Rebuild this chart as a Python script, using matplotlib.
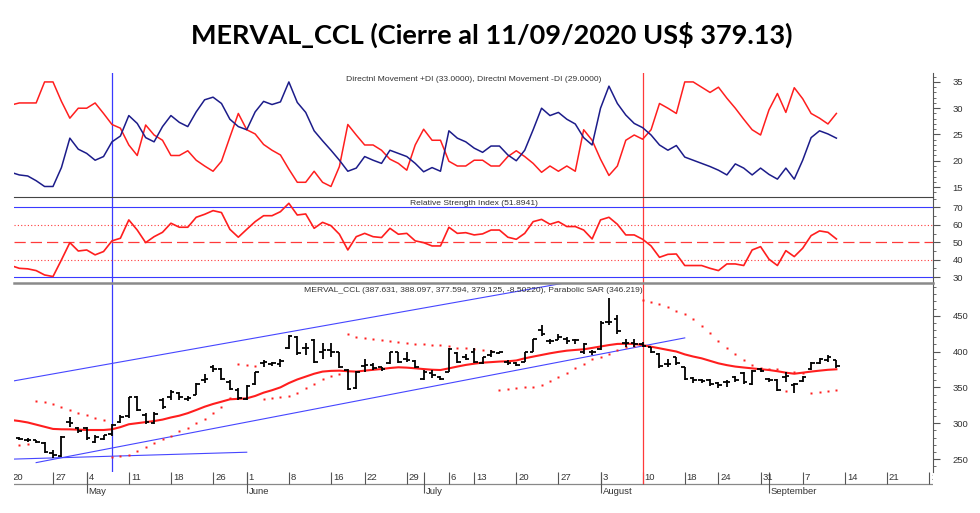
import numpy as np
import pandas as pd
import matplotlib
matplotlib.use("Agg")
import matplotlib.pyplot as plt
from matplotlib.ticker import MultipleLocator
from matplotlib.transforms import offset_copy

# --- trading calendar (Argentine market holidays removed) ---
start_date = "2020-04-20"
calendar_end = "2020-10-02"
holidays = ["2020-05-01", "2020-05-25", "2020-06-15",
            "2020-07-09", "2020-07-10", "2020-08-17"]
blue_marker_date = "2020-05-07"
red_marker_date = "2020-08-10"

# --- OHLC MERVAL_CCL (US$) ---
opens = [280, 280, 277, 276, 273, 258, 254, 301, 293, 293, 274, 278, 285, 302, 310, 337, 312, 300, 333, 336,
         342, 334, 340, 360, 378, 376, 358, 347, 334, 354, 384, 383, 383, 405, 420, 405, 416, 400, 402, 399,
         374, 349, 380, 381, 378, 384, 399, 390, 387, 361, 370, 365, 372, 398, 392, 400, 384, 395, 398, 385,
         384, 386, 400, 430, 414, 416, 418, 416, 400, 400, 403, 441, 445, 412, 412, 410, 406, 397, 383, 392,
         378, 363, 360, 360, 356, 357, 364, 370, 355, 375, 361, 360, 365, 353, 359, 375, 384, 388, 387.631]
highs = [282, 281, 279, 277, 274, 262, 282, 308, 295, 294, 283, 284, 299, 311, 337, 338, 314, 316, 335, 346,
         344, 338, 356, 369, 381, 377, 360, 349, 353, 372, 388, 386, 389, 423, 421, 412, 418, 412, 412, 400,
         375, 373, 390, 384, 379, 400, 400, 400, 388, 374, 374, 366, 405, 400, 397, 405, 393, 402, 400, 388,
         385, 400, 418, 437, 417, 425, 420, 418, 412, 402, 442, 474, 451, 417, 417, 413, 407, 398, 390, 393,
         379, 365, 362, 362, 358, 360, 366, 372, 374, 377, 363, 361, 372, 356, 366, 386, 391, 395, 388.097]
lows = [277, 276, 274, 272, 258, 252, 253, 294, 286, 277, 272, 276, 282, 300, 307, 317, 299, 299, 320, 333,
        333, 331, 339, 356, 372, 360, 346, 333, 332, 353, 379, 380, 378, 403, 395, 395, 384, 390, 393, 377,
        347, 348, 372, 374, 373, 383, 384, 386, 377, 360, 363, 360, 371, 384, 388, 384, 383, 393, 396, 381,
        380, 385, 399, 421, 411, 416, 411, 411, 397, 395, 402, 437, 425, 407, 406, 406, 398, 377, 379, 381,
        360, 356, 356, 352, 349, 350, 358, 355, 353, 372, 358, 345, 358, 342, 358, 374, 383, 386, 377.594]
closes = [279, 278, 276, 274, 260, 255, 281, 300, 289, 279, 281, 283, 297, 309, 336, 318, 301, 313, 322, 343,
          337, 335, 355, 362, 375, 362, 348, 335, 352, 371, 385, 384, 387, 421, 398, 405, 386, 402, 400, 378,
          348, 372, 381, 377, 375, 399, 386, 388, 378, 372, 367, 361, 404, 386, 390, 386, 392, 400, 399, 384,
          381, 399, 417, 425, 414, 420, 415, 416, 410, 399, 440, 441, 428, 412, 410, 408, 400, 380, 382, 384,
          362, 360, 359, 355, 353, 358, 360, 357, 373, 373, 360, 347, 366, 354, 364, 384, 389, 393, 379.125]

# moving average (red line) and Parabolic SAR
moving_avg = [304.5, 303, 301, 298, 295, 292, 291.5, 291.4, 291, 290.5, 290.5, 290.5, 291.5, 294.5, 298.5, 300,
              301.5, 303, 305, 308, 310.5, 314, 318.4, 323, 326.8, 330, 333.3, 334, 334.7, 338, 342.6, 346,
              350, 356, 361, 365, 369, 372, 373, 373.3, 372.5, 372, 373.3, 374.5, 375.6, 377, 378, 377.5,
              376.6, 375.5, 374.6, 374.2, 376.5, 379, 381.3, 383, 384.5, 385.2, 386, 386.4, 387.5, 390.5,
              392.9, 395.2, 397.5, 399.5, 401.2, 402.2, 403.1, 405, 407, 409, 410.6, 410.8, 410.6, 408.8,
              406.7, 404.5, 402.2, 400, 396, 393, 390.5, 387, 383.5, 381, 379, 377.7, 376.5, 375.3, 374.2,
              372.5, 370.5, 369, 370.5, 372, 373.3, 374.5, 375.2]
sar = [269, 269.6, 270.5, 331.4, 329.1, 326.3, 322.1, 318.0, 314.7, 311.0, 306.8, 304.0, 253.3, 254.2, 255.6,
       261.2, 266.3, 271.9, 277.5, 282.6, 289.1, 293.8, 299.8, 305.4, 314.7, 322.1, 334.7, 382.3, 381.0, 379.5,
       333.8, 334.7, 337.0, 337.9, 341.7, 348.6, 354.0, 361.4, 365.4, 368.0, 424.0, 420.7, 418.4, 417.5, 416.1,
       414.7, 413.3, 412.4, 411.0, 410.0, 409.1, 408.6, 408.2, 405.4, 404.5, 403.1, 402.1, 400.7, 346.3, 347.7,
       349.6, 350.0, 351.0, 353.3, 358.9, 364.0, 369.6, 376.6, 382.6, 389.2, 392.0, 396.6, 402.0, 406.0, 408.0,
       471.9, 469.6, 466.3, 461.7, 457.0, 451.9, 444.9, 435.8, 426.5, 415.1, 404.5, 396.3, 387.7, 381.7, 377.5,
       375.6, 375.6, 345.4, 371.0, 370.5, 342.6, 343.1, 345.4, 346.2]

# trend lines drawn on the price panel: (day index, price)
channel_top = ([0, 66], [358.3, 496.2])
channel_bottom = ([3, 80], [245.0, 419.0])
support_line = ([0, 28], [249.8, 259.5])

# Directional movement
plus_di = [17.8, 17.3, 17.1, 16.2, 15.1, 15.1, 18.7, 24.3, 22.2, 21.4, 20.1, 20.8, 23.6, 24.7, 28.6, 27.1,
           24.4, 23.6, 26.5, 28.6, 27.3, 26.5, 29.3, 31.6, 32.1, 30.9, 27.9, 26.5, 25.9, 29.3, 31.3, 30.7,
           31.2, 35.0, 31.1, 29.2, 25.7, 23.8, 22.0, 20.1, 18.0, 18.6, 20.8, 20.1, 19.5, 22.0, 21.4, 20.8,
           19.5, 17.9, 18.7, 18.0, 25.7, 24.3, 23.6, 22.4, 21.6, 22.8, 22.8, 21.1, 20.0, 22.0, 25.9, 30.0,
           28.6, 29.2, 27.9, 27.0, 24.4, 23.0, 30.0, 34.2, 30.9, 28.7, 27.1, 26.3, 24.9, 23.0, 22.0, 22.9,
           20.7, 20.1, 19.5, 18.9, 18.2, 17.3, 19.4, 18.6, 17.3, 18.6, 17.4, 16.5, 18.6, 16.5, 20.1, 24.4,
           25.7, 25.1, 24.3]
minus_di = [30.6, 31, 31, 31, 35, 35, 31.3, 28.1, 30, 30, 31, 29, 26.9, 26.2, 23, 21, 26.8, 24.9, 23.9, 21,
            21, 21.9, 20.1, 19, 18, 19.9, 24.5, 29, 25.9, 25.1, 23.1, 22, 21.1, 18.4, 15.9, 15.9, 18, 15.9,
            15.1, 18.9, 26.9, 24.9, 23, 23, 22, 20.3, 19.5, 18.2, 23, 26, 23.9, 23.9, 19.9, 19, 19, 20.1, 20.1,
            19, 19, 20.8, 21.9, 20.8, 19.5, 17.8, 19, 18, 19, 18, 25.9, 23.9, 20.3, 17.2, 19, 23.9, 24.9, 24.1,
            25.9, 30.9, 30, 29, 35, 35, 34, 33, 34, 31.9, 30, 27.9, 25.9, 24.9, 29.7, 32.8, 29.2, 33.9, 31.8,
            29, 28.1, 27, 29]

# Relative Strength Index
rsi = [36.7, 35.1, 34.8, 33.8, 31.3, 30.4, 39.9, 49.8, 45, 45.6, 42.8, 44.7, 50.8, 52.3, 62.8, 57, 49.8, 53.2,
       55.7, 60.9, 58.6, 58.6, 64.3, 66, 68.1, 67, 57.4, 52.9, 57.4, 61.8, 65.2, 65.2, 67.5, 72.3, 65.6, 66.2,
       58, 61.4, 59.5, 54.6, 45.6, 53.2, 55.1, 53.2, 52.7, 58, 54.6, 55.1, 50.8, 49.8, 47.9, 47.9, 58.6, 55.1,
       55.5, 54.2, 54.8, 57, 57, 52.9, 51.7, 55.1, 61.8, 63.1, 60.3, 61.8, 59, 59, 57, 51.9, 62.8, 64.3, 60.3,
       54.2, 54.2, 51.7, 47.9, 41.4, 43.1, 43.3, 36.7, 36.7, 36.7, 35.1, 33.8, 37.6, 37.6, 36.7, 45.6, 47.5,
       40.3, 36.7, 45.2, 41.8, 46.6, 53.8, 56.5, 55.7, 51.9]

title = "MERVAL_CCL (Cierre al 11/09/2020 US$ 379.13)"
di_title = "Directnl Movement +DI (33.0000), Directnl Movement -DI (29.0000)"
rsi_title = "Relative Strength Index (51.8941)"
px_title = ("MERVAL_CCL (387.631, 388.097, 377.594, 379.125, -8.50220), "
            "Parabolic SAR (346.219)")
month_names = {5: "May", 6: "June", 7: "July", 8: "August", 9: "September"}

# build day index
days = pd.bdate_range(start_date, calendar_end)
days = days[~days.isin(pd.to_datetime(holidays))]
day_pos = {d: i for i, d in enumerate(days)}
x = np.arange(len(closes))

week_first = pd.Series(days).groupby([days.isocalendar().year.values,
                                      days.isocalendar().week.values]).first()
week_idx = [day_pos[d] for d in week_first]
week_lbl = [str(d.day) for d in week_first]
month_first = pd.Series(days).groupby(days.month.values).first()
month_idx = [day_pos[d] for d in month_first if d.month in month_names]
month_lbl = [month_names[d.month] for d in month_first if d.month in month_names]
blue_idx = day_pos[pd.Timestamp(blue_marker_date)]
red_idx = day_pos[pd.Timestamp(red_marker_date)]

plt.rcParams['font.family'] = ['Liberation Sans', 'DejaVu Sans']

W, H = 980, 513
fig = plt.figure(figsize=(W / 100, H / 100), dpi=100)


def box(top, bottom, left=14, right=933):
    return [left / W, 1 - bottom / H, (right - left) / W, (bottom - top) / H]


ax_di = fig.add_axes(box(73, 197))
ax_rsi = fig.add_axes(box(197, 283), sharex=ax_di)
ax_px = fig.add_axes(box(283, 472), sharex=ax_di)
ax_dt = fig.add_axes(box(472, 497), sharex=ax_di)

for ax in (ax_di, ax_rsi, ax_px):
    for s in ("top", "left", "bottom"):
        ax.spines[s].set_visible(False)
    ax.spines["right"].set_color("#555555")
    ax.spines["right"].set_linewidth(0.8)
    ax.yaxis.tick_right()
    ax.tick_params(axis="y", which="major", length=5, width=0.8, color="#555555",
                   labelsize=6.8, labelcolor="#333333", pad=9)
    ax.tick_params(axis="y", which="minor", length=2.2, width=0.6, color="#555555")
    ax.tick_params(axis="x", bottom=False, labelbottom=False)
    ax.axvline(blue_idx, color="#3a3aff", lw=0.9)
    ax.axvline(red_idx, color="#ff3a3a", lw=0.9)

ax_rsi.spines["top"].set_visible(True)
ax_rsi.spines["top"].set_color("#444444")
ax_px.spines["top"].set_visible(True)
ax_px.spines["top"].set_color("#8a8a8a")
ax_px.spines["top"].set_linewidth(1.8)

ax_di.set_xlim(0.37, 109.47)

# --- Directional movement panel ---
ax_di.plot(x, minus_di, color="#ff1e1e", lw=1.1)
ax_di.plot(x, plus_di, color="#1c1c8a", lw=1.1)
ax_di.set_ylim(13.1, 36.7)
ax_di.set_yticks([15, 20, 25, 30, 35])
ax_di.yaxis.set_minor_locator(MultipleLocator(1))
ax_di.text(0.5, 0.944, di_title, transform=ax_di.transAxes, ha="center", va="center",
           fontsize=6.1, color="#333333")

# --- RSI panel ---
for lvl in (70, 30):
    ax_rsi.axhline(lvl, color="#3a3aff", lw=0.8)
for lvl in (60, 40):
    ax_rsi.axhline(lvl, color="#ff3a3a", lw=0.8, ls=(0, (1, 2)))
ax_rsi.axhline(50, color="#ff3a3a", lw=0.9, ls=(0, (9, 4)))
ax_rsi.plot(x, rsi, color="#ff1e1e", lw=1.2)
ax_rsi.set_ylim(26.7, 75.9)
ax_rsi.set_yticks([30, 40, 50, 60, 70])
ax_rsi.yaxis.set_minor_locator(MultipleLocator(5))
ax_rsi.text(0.5, 0.92, rsi_title, transform=ax_rsi.transAxes, ha="center", va="center",
            fontsize=6.1, color="#333333")

# --- price panel ---
for line in (channel_top, channel_bottom, support_line):
    ax_px.plot(line[0], line[1], color="#4646ff", lw=0.8)
ax_px.plot(x, moving_avg, color="#ff1e1e", lw=1.5)
ax_px.plot(x, sar, ls="none", marker="s", ms=1.8, color="#ff1e1e", mec="none")
xa = np.array(x, dtype=float)
ax_px.vlines(xa, lows, highs, color="black", lw=1.3)
ax_px.hlines(opens, xa - 0.42, xa, color="black", lw=1.3)
ax_px.hlines(closes, xa, xa + 0.42, color="black", lw=1.3)
ax_px.set_ylim(231.9, 495.6)
ax_px.set_yticks([250, 300, 350, 400, 450])
ax_px.yaxis.set_minor_locator(MultipleLocator(10))
ax_px.text(0.5, 0.958, px_title, transform=ax_px.transAxes, ha="center", va="center",
           fontsize=6.1, color="#333333")

# --- date strip ---
ax_dt.set_axis_off()
ax_dt.set_ylim(0, 1)
ax_dt.axhline(0.52, color="#888888", lw=0.9)
ax_dt.vlines(week_idx, 0.52, 1.0, color="#555555", lw=0.8)
ax_dt.vlines(month_idx, 0.16, 1.0, color="#555555", lw=0.8)
ax_dt.axvline(red_idx, ymin=0.56, ymax=1.0, color="#ff3a3a", lw=0.9)
shifted = offset_copy(ax_dt.transData, fig=fig, x=2, y=0, units="dots")
for i, lbl in zip(week_idx, week_lbl):
    ax_dt.text(i, 0.76, lbl, transform=shifted, ha="left", va="center",
               fontsize=6.8, color="#333333", clip_on=True)
for i, lbl in zip(month_idx, month_lbl):
    ax_dt.text(i, 0.22, lbl, transform=shifted, ha="left", va="center",
               fontsize=6.8, color="#333333")

fig.text(492 / W, 1 - 35 / H, title, ha="center", va="center", fontsize=19.5,
         fontweight="bold", family=["Lato", "DejaVu Sans"])

fig.savefig("out.png", dpi=100)
